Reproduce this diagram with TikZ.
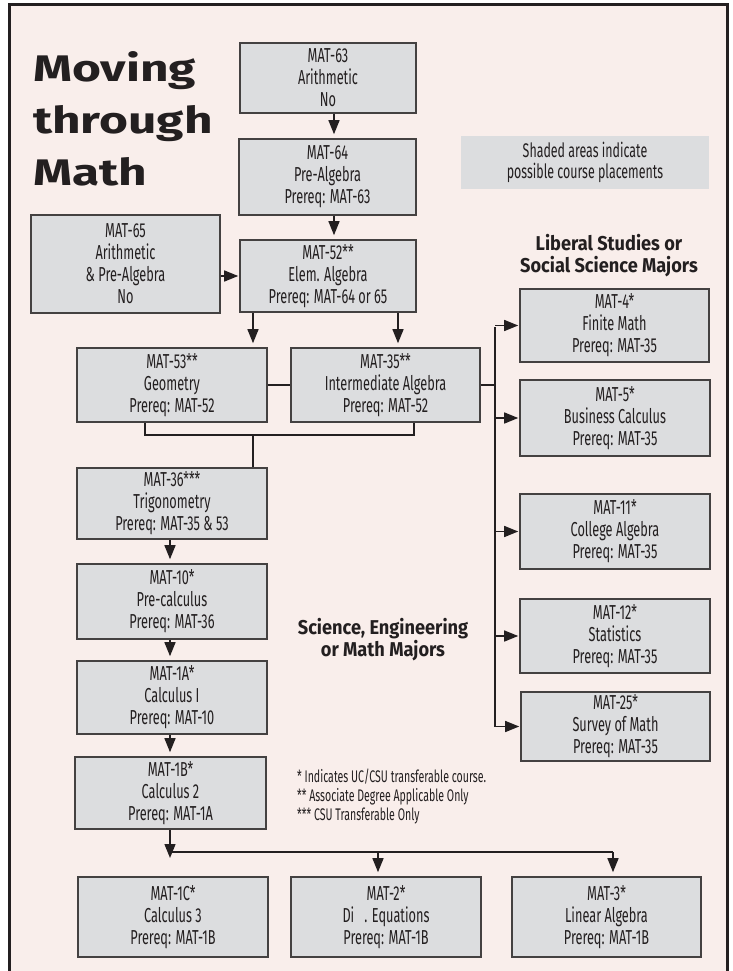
\documentclass[tikz,border=0pt]{standalone}
\usepackage{fontspec}
\setmainfont{Fira Sans}
\newfontfamily\condfont[FakeStretch=0.63]{Fira Sans}
\newfontfamily\headfont[FakeStretch=0.91]{Fira Sans}
\newfontfamily\widefont[FakeStretch=1.34]{Fira Sans}
\usetikzlibrary{calc,arrows.meta}
\definecolor{bgpink}{HTML}{F9EEEB}
\definecolor{boxgray}{HTML}{DCDDDF}
\definecolor{ink}{HTML}{231F20}

\begin{document}
\begin{tikzpicture}[x=1pt,y=-1pt,
  course/.style={draw=ink!85,fill=boxgray,line width=1.6pt,inner sep=0pt,
    align=center,text=ink,minimum width=190pt,minimum height=74pt,
    font=\condfont\fontsize{20.2}{22}\selectfont},
  arr/.style={line width=1.4pt,draw=ink,-{Triangle[length=14pt,width=11pt]},shorten >=4pt},
  side/.style={arr,shorten >=1pt},
  link/.style={line width=1.4pt,draw=ink},
  title/.style={anchor=base west,inner sep=0pt,text=ink,font=\widefont\bfseries\fontsize{37}{40}\selectfont},
  heading/.style={align=center,text=ink,font=\headfont\bfseries\fontsize{20}{22}\selectfont},
  note/.style={anchor=base west,inner sep=0pt,text=ink,font=\condfont\fontsize{16.8}{19}\selectfont}]
  \useasboundingbox (0,0) rectangle (732,971);
  \fill[bgpink] (9.5,4.5) rectangle (727,980);
  \draw[line width=3pt,ink] (9.5,980) -- (9.5,4.5) -- (727,4.5) -- (727,980);
  % title
  \node (t1) [title] at (33,82) {Moving};
  \node (t2) [title] at (33,133.5) {through};
  \node (t3) [title] at (33,185) {Math};
  \node (key) [fill=boxgray,minimum width=248pt,minimum height=53pt,align=center,text=ink,
    font=\condfont\fontsize{19.7}{21}\selectfont] at (585,162.5) {Shaded areas indicate\\possible course placements};
  \node (lib) [heading] at (609,256) {Liberal Studies or\\Social Science Majors};
  \node (sci) [heading] at (383,640) {Science, Engineering\\or Math Majors};
  % courses
  \node (63) [course,minimum width=176pt,minimum height=70pt] at (328,78) {MAT-63\\Arithmetic\\No};
  \node (64) [course,minimum width=177pt,minimum height=76pt] at (327.5,177) {MAT-64\\Pre-Algebra\\Prereq: MAT-63};
  \node (52) [course,minimum width=176pt,minimum height=72pt] at (328,276) {MAT-52**\\Elem. Algebra\\Prereq: MAT-64 or 65};
  \node (65) [course,minimum width=189pt,minimum height=98pt] at (125.5,264) {MAT-65\\Arithmetic\\\& Pre-Algebra\\No};
  \node (53) [course] at (172,385) {MAT-53**\\Geometry\\Prereq: MAT-52};
  \node (35) [course,minimum width=189pt] at (385.5,385) {MAT-35**\\Intermediate Algebra\\Prereq: MAT-52};
  \node (36) [course,minimum height=71pt] at (172,503.5) {MAT-36***\\Trigonometry\\Prereq: MAT-35 \& 53};
  \node (10) [course,minimum height=75pt] at (172,601.5) {MAT-10*\\Pre-calculus\\Prereq: MAT-36};
  \node (1A) [course,minimum height=73pt] at (172,697.5) {MAT-1A*\\Calculus I\\Prereq: MAT-10};
  \node (1B) [course,minimum width=191pt,minimum height=72pt] at (170.5,793) {MAT-1B*\\Calculus 2\\Prereq: MAT-1A};
  \node (1C) [course,minimum height=80pt] at (173,917) {MAT-1C*\\Calculus 3\\Prereq: MAT-1B};
  \node (2) [course,minimum height=80pt] at (386,917) {MAT-2*\\Di\enspace. Equations\\Prereq: MAT-1B};
  \node (3) [course,minimum width=189pt,minimum height=80pt] at (606.5,917) {MAT-3*\\Linear Algebra\\Prereq: MAT-1B};
  \node (4) [course,minimum width=189pt,minimum height=73pt] at (614.5,325.5) {MAT-4*\\Finite Math\\Prereq: MAT-35};
  \node (5) [course,minimum height=76pt] at (615,418) {MAT-5*\\Business Calculus\\Prereq: MAT-35};
  \node (11) [course,minimum height=75pt] at (615,531.5) {MAT-11*\\College Algebra\\Prereq: MAT-35};
  \node (12) [course] at (615,636) {MAT-12*\\Statistics\\Prereq: MAT-35};
  \node (25) [course,minimum width=189pt,minimum height=69pt] at (615.5,726.5) {MAT-25*\\Survey of Math\\Prereq: MAT-35};
  % footnotes
  \node (n1) [note] at (297,782.5) {* Indicates UC/CSU transferable course.};
  \node (n2) [note] at (297,801.5) {** Associate Degree Applicable Only};
  \node (n3) [note] at (297,820.5) {*** CSU Transferable Only};
  % helper points
  \coordinate (c) at (334,0);
  \coordinate (j) at (253,435);
  \coordinate (k) at (398,0);
  \coordinate (v) at (170,0);
  \coordinate (r1) at (495,327);
  \coordinate (r2) at (495,727);
  \coordinate (b0) at (170,858);
  \coordinate (b1) at (170,852);
  \coordinate (b2) at (378,852);
  \coordinate (b3) at (613,852);
  % connectors
  \draw[arr] (63.south -| c)--(64.north -| c);
  \draw[arr] (64.south -| c)--(52.north -| c);
  \draw[side] (65.east |- 52.west)--(52.west);
  \draw[arr] (52.south -| j)--(53.north -| j);
  \draw[arr] (52.south -| k)--(35.north -| k);
  \draw[link] (53.east)--(35.west);
  \draw[link] (35.east)--(35.east -| r1);
  \draw[link] ([xshift=-27pt]53.south) |- (j) -| ([xshift=28.5pt]35.south);
  \draw[link] (j)--(36.north -| j);
  \draw[link] (r1)--(r2);
  \draw[side] (4.west -| r1)--(4.west);
  \draw[side] (5.west -| r1)--(5.west);
  \draw[side] (11.west -| r1)--(11.west);
  \draw[side] (12.west -| r1)--(12.west);
  \draw[side] (25.west -| r1)--(25.west);
  \draw[arr] (36.south -| v)--(10.north -| v);
  \draw[arr] (10.south -| v)--(1A.north -| v);
  \draw[arr] (1A.south -| v)--(1B.north -| v);
  \draw[arr,shorten >=0pt] (1B.south -| v)--(b0);
  \draw[link] (b1)--(b3);
  \draw[arr] (b2)--(2.north -| b2);
  \draw[arr] (b3)--(3.north -| b3);
\end{tikzpicture}
\end{document}
